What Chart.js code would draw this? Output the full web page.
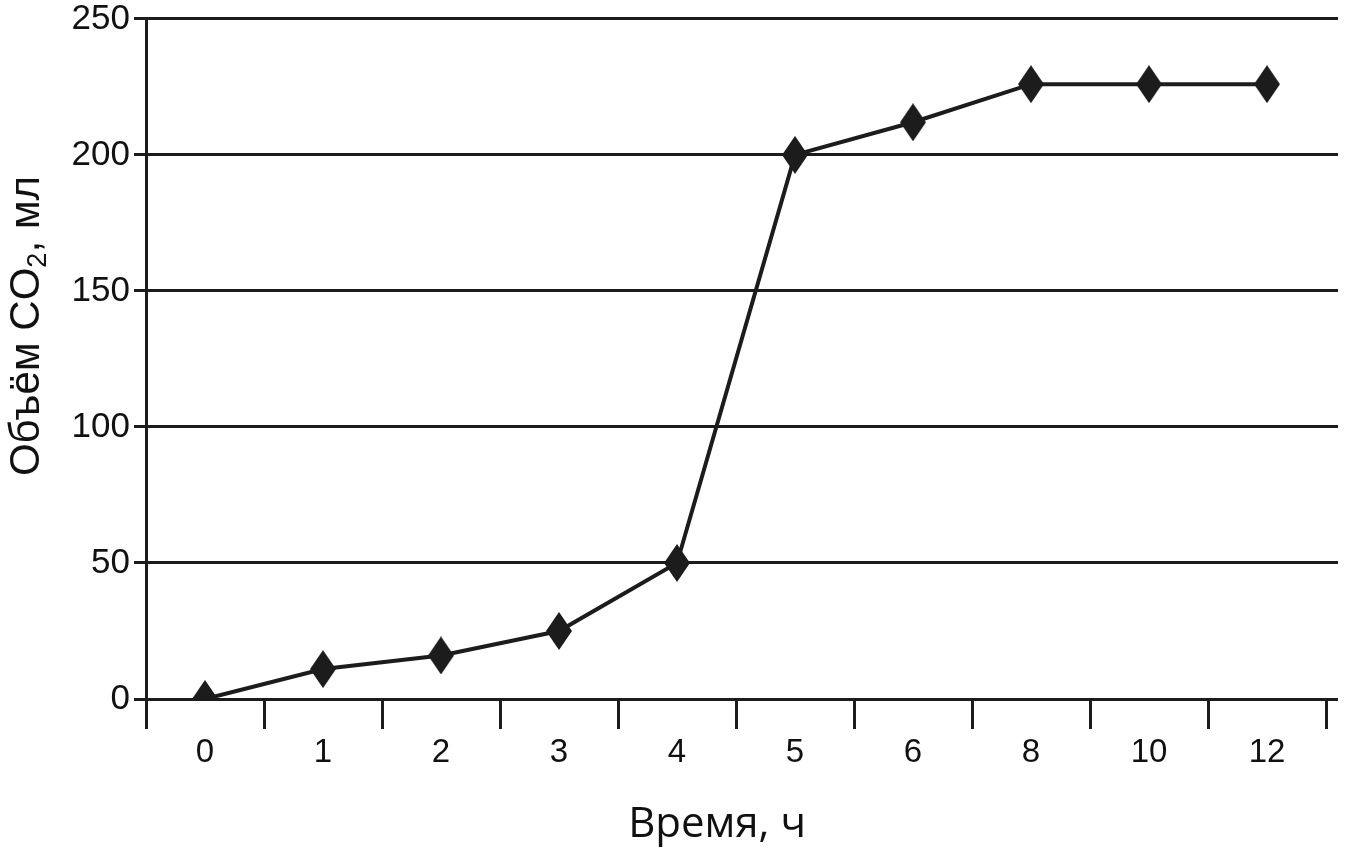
<!DOCTYPE html>
<html>
<head>
<meta charset="utf-8">
<script src="https://cdn.jsdelivr.net/npm/chart.js@4.4.1/dist/chart.umd.min.js"></script>
<style>
  html, body { margin: 0; padding: 0; background: #fff; }
  #wrap { width: 1367px; height: 857px; position: relative; }
</style>
</head>
<body>
<div id="wrap"><canvas id="co2Chart"></canvas></div>
<script>
// hours (category labels) and CO2 volume, ml
const hours = ['0', '1', '2', '3', '4', '5', '6', '8', '10', '12']
const co2 = [0, 11, 16, 25, 50, 200, 212, 226, 226, 226]
const yMin = 0
const yMax = 250
const yStep = 50

const ink = '#1c1c1c'

// elongated diamond marker
function makeDiamond(w, h) {
    const c = document.createElement('canvas')
    c.width = w
    c.height = h
    const g = c.getContext('2d')
    g.fillStyle = ink
    g.beginPath()
    g.moveTo(w / 2, 0)
    g.lineTo(w, h / 2)
    g.lineTo(w / 2, h)
    g.lineTo(0, h / 2)
    g.closePath()
    g.fill()
    return c
}
const diamond = makeDiamond(26, 38)

// axis titles drawn by hand so the subscript and placement match
const axisTitles = {
    id: 'axisTitles',
    afterDraw(chart) {
        const ctx = chart.ctx
        ctx.save()
        ctx.fillStyle = '#111'

        // x title
        ctx.font = '42px "Open Sans"'
        ctx.textAlign = 'center'
        ctx.textBaseline = 'alphabetic'
        ctx.fillText('Время, ч', 717, 837)

        // y title, rotated, with subscript 2
        const big = '42px "Liberation Sans", Arial, sans-serif'
        const small = '27px "Liberation Sans", Arial, sans-serif'
        const parts = [['Объём CO', big, 0], ['2', small, 7], [', мл', big, 0]]
        let total = 0
        parts.forEach(p => { ctx.font = p[1]; total += ctx.measureText(p[0]).width })
        ctx.translate(39, 326)
        ctx.rotate(-Math.PI / 2)
        ctx.textAlign = 'left'
        let x = -total / 2
        parts.forEach(p => {
            ctx.font = p[1]
            ctx.fillText(p[0], x, p[2])
            x += ctx.measureText(p[0]).width
        })
        ctx.restore()
    }
}

const ctx = document.getElementById('co2Chart')
const chart = new Chart(ctx, {
    type: 'line',
    data: {
        labels: hours,
        datasets: [{
            label: 'CO2',
            data: co2,
            borderColor: ink,
            borderWidth: 4,
            tension: 0,
            pointStyle: diamond,
            pointRadius: 13,
            pointHoverRadius: 13,
            backgroundColor: ink
        }]
    },
    options: {
        responsive: true,
        maintainAspectRatio: false,
        animation: false,
        layout: { padding: { top: 0, left: 0, right: 0, bottom: 0 } },
        plugins: {
            legend: { display: false },
            tooltip: { enabled: false }
        },
        scales: {
            x: {
                type: 'category',
                offset: true,
                grid: {
                    offset: true,
                    drawOnChartArea: false,
                    color: ink,
                    lineWidth: 3,
                    tickLength: 30
                },
                border: { color: ink, width: 3 },
                ticks: {
                    color: '#111',
                    font: { family: '"Liberation Sans", Arial, sans-serif', size: 33 },
                    padding: 4,
                    maxRotation: 0
                },
                afterFit: s => { s.height = 158 }
            },
            y: {
                min: yMin,
                max: yMax,
                grid: {
                    color: ink,
                    lineWidth: 3,
                    tickLength: 12
                },
                border: { color: ink, width: 3 },
                ticks: {
                    stepSize: yStep,
                    color: '#111',
                    font: { family: '"Liberation Sans", Arial, sans-serif', size: 35, lineHeight: 0.85 },
                    padding: 4
                },
                afterFit: s => { s.width = 146 }
            },
            yRight: {
                position: 'right',
                min: yMin,
                max: yMax,
                grid: {
                    drawOnChartArea: false,
                    color: ink,
                    lineWidth: 3,
                    tickLength: 12
                },
                border: { display: false },
                ticks: { stepSize: yStep, display: false },
                afterFit: s => { s.width = 41 }
            }
        }
    },
    plugins: [axisTitles]
})
</script>
</body>
</html>
